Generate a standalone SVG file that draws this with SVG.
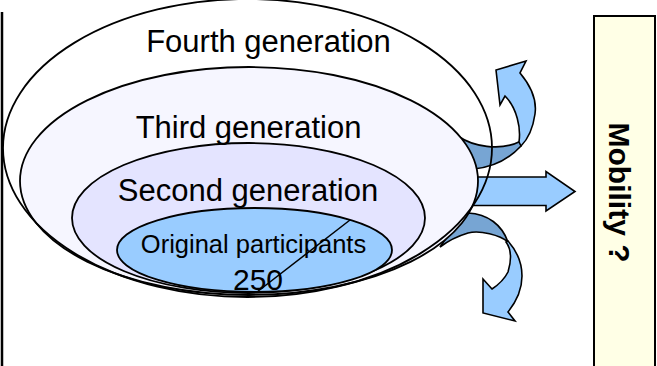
<svg xmlns="http://www.w3.org/2000/svg" width="657" height="366" viewBox="0 0 657 366">
<style>
.ell{stroke:#000;stroke-width:1.8}
.lbl{font-family:"Liberation Sans",Arial,sans-serif;fill:#000;text-anchor:middle}
.light{fill:#99CCFF;stroke:#000;stroke-width:1.6;stroke-linejoin:miter}
.dark{fill:#77A5D3;stroke:#000;stroke-width:1.6}
</style>
<rect width="657" height="366" fill="#fff"/>
<line x1="2" y1="12" x2="2" y2="366" stroke="#000" stroke-width="2.5"/>
<g id="fourth-generation-fill">
<ellipse cx="247.5" cy="148" rx="244.5" ry="149" fill="#fff" stroke="none"/>
</g>
<g id="connectors">
<path class="dark" d="M458,136 C472,146 500,152 521,141 L521,146 C510,158 495,167 474,169 Z"/>
<path class="light" d="M519,142 C521,128 517,108 505,96 L500,105 L496,70 L526,61 L520,73 C531,86 537,100 535,114 C533,128 528,139 521,146 Z"/>
<path class="light" d="M460,177 L546,177 L546,171.5 L575,191.5 L546,211 L546,205.5 L460,205.5 Z"/>
<path class="dark" d="M440,247 C450,232 460,220 468,213 C488,214 502,225 508,242 C500,235 480,230 468,233 C458,236 448,241 440,247 Z"/>
<path class="light" d="M506,242 C512,250 511,262 508,272 C504,280 498,285 492,289 L483,279 L483,313 L515,321 L508,312 C516,302 522,290 522,276 C522,262 516,250 508,241 Z"/>
</g>
<g id="third-generation">
<ellipse class="ell" cx="249" cy="181" rx="229" ry="114" fill="#F6F6FF"/>
</g>
<g id="second-generation">
<ellipse class="ell" cx="248.5" cy="218" rx="176.5" ry="75" fill="#E4E4FF"/>
</g>
<g id="original-participants">
<ellipse class="ell" cx="254.5" cy="250" rx="137.5" ry="42" fill="#99CCFF"/>
</g>
<g id="fourth-generation">
<ellipse class="ell" cx="247.5" cy="148" rx="244.5" ry="149" fill="none"/>
<text class="lbl" x="268.5" y="52" font-size="31">Fourth generation</text>
</g>
<text class="lbl" x="248.5" y="138" font-size="31">Third generation</text>
<text class="lbl" x="248" y="201" font-size="31">Second generation</text>
<text class="lbl" x="253.5" y="253" font-size="25.5">Original participants</text>
<text class="lbl" x="258" y="290" font-size="30">250</text>
<line x1="350" y1="220" x2="257" y2="292" stroke="#000" stroke-width="1.5"/>
<g id="mobility">
<rect x="594" y="16" width="61" height="360" fill="#FFFFE6" stroke="#000" stroke-width="2"/>
<text class="lbl" transform="translate(609,192.5) rotate(90)" font-size="30" font-weight="bold">Mobility ?</text>
</g>
</svg>
